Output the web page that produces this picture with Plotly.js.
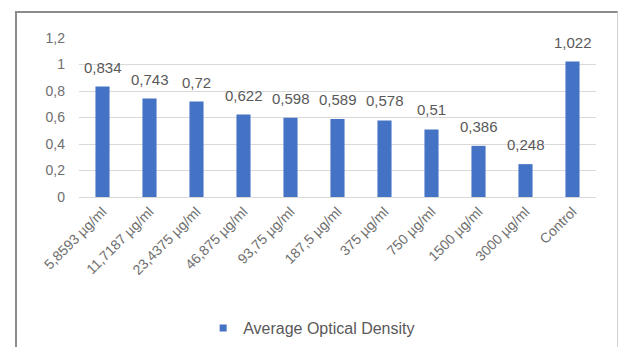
<!DOCTYPE html>
<html><head><meta charset="utf-8">
<script src="https://cdn.plot.ly/plotly-3.0.1.min.js"></script>
<style>
html,body{margin:0;padding:0;background:#fff;width:618px;height:347px;overflow:hidden;}
#frame{position:absolute;left:15px;top:11px;width:600px;height:336px;border-top:2px solid #8c8c8c;border-left:2px solid #8c8c8c;border-right:1px solid #d0d0d0;}
#chart{width:600px;height:336px;}
</style></head><body>
<div id="frame"><div id="chart"></div></div>
<script>
const categories = ["5,8593 µg/ml","11,7187 µg/ml","23,4375 µg/ml","46,875 µg/ml","93,75 µg/ml","187,5 µg/ml","375 µg/ml","750 µg/ml","1500 µg/ml","3000 µg/ml","Control"];
const values = [0.834,0.743,0.72,0.622,0.598,0.589,0.578,0.51,0.386,0.248,1.022];
const seriesName = "Average Optical Density";
const yTicks = [0,0.2,0.4,0.6,0.8,1,1.2];

const trace = {
  type:'bar', x:categories, y:values, name:seriesName,
  marker:{color:'#4472C4'},
  showlegend:false
};
const legendTrace = {
  type:'scatter', mode:'markers', x:[categories[0]], y:[null], name:seriesName,
  marker:{symbol:'square',size:7,color:'#4472C4'}, showlegend:true
};
const labelAnnotations = categories.map((c,i)=>({
  x:c, y:values[i], xref:'x', yref:'y', text:String(values[i]).replace('.',','),
  showarrow:false, yanchor:'bottom', yshift:9,
  font:{family:'Liberation Sans, Arial, sans-serif',size:15,color:'#595959'}
}));
const layout = {
  width:600, height:336,
  margin:{l:62,r:21,t:25,b:152,autoexpand:false},
  paper_bgcolor:'#fff', plot_bgcolor:'#fff',
  separators:', ',
  bargap:0.7,
  font:{family:'Liberation Sans, Arial, sans-serif',size:14,color:'#595959'},
  xaxis:{automargin:false,range:[-0.5,categories.length-0.5],tickangle:-45,showline:true,linecolor:'#d9d9d9',ticks:'',tickfont:{size:14,color:'#6e6e6e'}},
  yaxis:{automargin:false,range:[0,1.2],tickvals:yTicks,ticktext:yTicks.map(v=>String(v).replace('.',',')),
    gridcolor:'#d9d9d9',zeroline:false,ticks:'',ticklabelstandoff:13,tickfont:{size:14,color:'#6e6e6e'}},
  legend:{orientation:'h',x:0.45,xanchor:'center',y:-0.824,yanchor:'middle',itemwidth:30,font:{size:16,color:'#595959'}},
  annotations:labelAnnotations,
  showlegend:true
};
Plotly.newPlot('chart',[trace,legendTrace],layout,{displayModeBar:false,staticPlot:true});
</script></body></html>
